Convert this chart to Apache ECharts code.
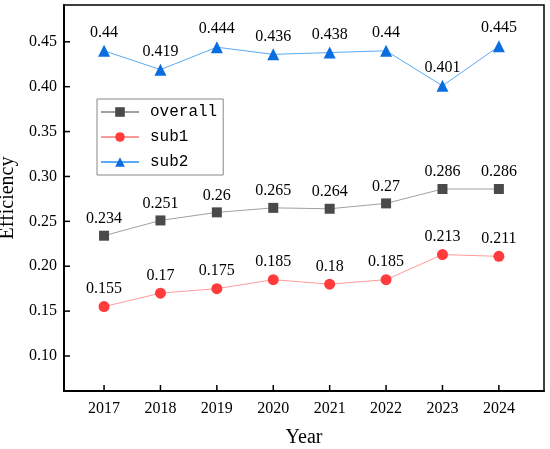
<!DOCTYPE html>
<html>
<head>
<meta charset="utf-8">
<script src="https://cdn.jsdelivr.net/npm/echarts@6/dist/echarts.min.js"></script>
<style>
  html, body { margin: 0; padding: 0; background: #fff; }
  #chart { width: 550px; height: 449px; }
</style>
</head>
<body>
<div id="chart"></div>
<script>
const years = [2017, 2018, 2019, 2020, 2021, 2022, 2023, 2024];
const overall = [0.234, 0.251, 0.26, 0.265, 0.264, 0.27, 0.286, 0.286];
const sub1 = [0.155, 0.17, 0.175, 0.185, 0.18, 0.185, 0.213, 0.211];
const sub2 = [0.44, 0.419, 0.444, 0.436, 0.438, 0.44, 0.401, 0.445];
const yTicks = [0.10, 0.15, 0.20, 0.25, 0.30, 0.35, 0.40, 0.45];

const xMin = 2016.29, xMax = 2024.8;
const yMin = 0.061, yMax = 0.491;

const serif = '"Liberation Serif", "Times New Roman", serif';

function makeSeries(name, values, symbol, size, lineColor, markColor) {
  return {
    name: name,
    type: 'line',
    data: years.map((y, i) => [y, values[i]]),
    symbol: symbol,
    symbolSize: size,
    lineStyle: { color: lineColor, width: 1 },
    itemStyle: { color: markColor },
    label: {
      show: true,
      position: 'top',
      distance: 4,
      color: '#000',
      fontFamily: serif,
      fontSize: 16,
      formatter: p => String(p.value[1])
    },
    z: 3
  };
}

// inward tick marks, placed through the axis scales
function tickSeries(points, dx, dy) {
  return {
    type: 'custom',
    silent: true,
    clip: false,
    z: 4,
    data: points,
    renderItem: (params, api) => {
      const p = api.coord([api.value(0), api.value(1)]);
      return {
        type: 'line',
        shape: { x1: p[0], y1: p[1], x2: p[0] + dx, y2: p[1] + dy },
        style: { stroke: '#000', lineWidth: 1.5 }
      };
    }
  };
}

const chart = echarts.init(document.getElementById('chart'));

const option = {
  animation: false,
  backgroundColor: '#fff',
  grid: {
    left: 64, right: 6, top: 5, bottom: 58,
    outerBoundsMode: 'none',
    containLabel: false,
    show: true,
    borderColor: '#000',
    borderWidth: 1.5
  },
  legend: {
    left: 97, top: 99,
    orient: 'vertical',
    backgroundColor: '#fff',
    borderColor: '#888',
    borderWidth: 1,
    padding: [5, 6, 5, 3],
    itemWidth: 38,
    itemHeight: 12,
    itemGap: 9,
    textStyle: {
      fontFamily: '"Liberation Mono", monospace',
      fontSize: 16,
      color: '#000',
      padding: [0, 0, 0, 6]
    },
    data: ['overall', 'sub1', 'sub2']
  },
  xAxis: {
    type: 'value',
    min: xMin,
    max: xMax,
    name: 'Year',
    nameLocation: 'middle',
    nameGap: 37,
    nameTextStyle: { fontFamily: serif, fontSize: 20, color: '#000' },
    splitLine: { show: false },
    axisLine: { show: true, onZero: false, lineStyle: { color: '#000', width: 2 } },
    axisTick: { show: false },
    axisLabel: { customValues: years, margin: 10, fontFamily: serif, fontSize: 16, color: '#000', formatter: v => String(v) }
  },
  yAxis: {
    type: 'value',
    min: yMin,
    max: yMax,
    name: 'Efficiency',
    nameLocation: 'middle',
    nameGap: 41,
    nameTextStyle: { fontFamily: serif, fontSize: 20, color: '#000' },
    splitLine: { show: false },
    axisLine: { show: true, onZero: false, lineStyle: { color: '#000', width: 2 } },
    axisTick: { show: false },
    axisLabel: { customValues: yTicks, margin: 7, fontFamily: serif, fontSize: 16, color: '#000', formatter: v => v.toFixed(2) }
  },
  series: [
    makeSeries('overall', overall, 'rect', 10, '#a0a0a0', '#4a4a4a'),
    makeSeries('sub1', sub1, 'circle', 11, '#ff9a9a', '#ff3b3b'),
    makeSeries('sub2', sub2, 'triangle', 12, '#5aaaf5', '#0a6ee0'),
    tickSeries(years.map(y => [y, yMin]), 0, -6),
    tickSeries(yTicks.map(v => [xMin, v]), 6, 0)
  ]
};

chart.setOption(option);
</script>
</body>
</html>
